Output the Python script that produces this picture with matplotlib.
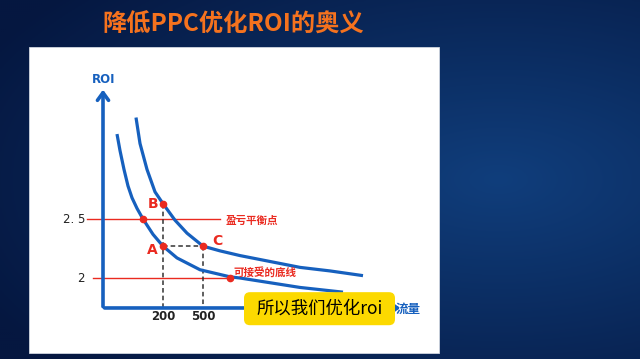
import numpy as np
import matplotlib
matplotlib.use("Agg")
import matplotlib.pyplot as plt
from matplotlib.patches import Rectangle, FancyBboxPatch

plt.rcParams['font.family'] = ['Noto Sans CJK SC', 'DejaVu Sans']

# curves: x is traffic (arbitrary units), y is ROI
outer_x = [33, 37, 44, 52, 60, 72, 84, 100, 117, 137, 167, 197, 227, 260]
outer_roi = [3.36, 3.14, 2.92, 2.73, 2.63, 2.49, 2.38, 2.27, 2.23, 2.19, 2.14, 2.09, 2.06, 2.02]
inner_x = [14, 17, 21, 25, 29, 34, 40, 50, 60, 74, 97, 127, 137, 167, 197, 240]
inner_roi = [3.22, 3.08, 2.92, 2.78, 2.68, 2.59, 2.50, 2.37, 2.27, 2.17, 2.07, 2.01, 2.00,
             1.96, 1.92, 1.88]

point_names = ["A", "B", "C"]
point_x = [60, 60, 100]
point_roi = [2.27, 2.63, 2.27]

breakeven_roi = 2.5
breakeven_x = 40
floor_roi = 2.0
floor_x = 127

tick_pos = [60, 100]
tick_labels = ["200", "500"]
roi_ticks = [2.5, 2.0]
roi_tick_labels = ["2. 5", "2"]

title = "降低PPC优化ROI的奥义"
caption = "所以我们优化roi"

blue = "#1660be"
red = "#ea2a20"

fig = plt.figure(figsize=(6.4, 3.59), dpi=100)

# background gradient
bg = fig.add_axes([0, 0, 1, 1])
gx, gy = np.meshgrid(np.linspace(0, 1, 320), np.linspace(0, 1, 180))
dist = np.sqrt(((gx - 0.78) / 0.9) ** 2 + ((gy - 0.5) / 0.8) ** 2)
dist = np.clip(dist, 0, 1)
c_in = np.array([0x10, 0x3e, 0x7c]) / 255.0
c_out = np.array([0x05, 0x17, 0x40]) / 255.0
img = c_in[None, None, :] * (1 - dist[..., None]) + c_out[None, None, :] * dist[..., None]
bg.imshow(img, extent=[0, 1, 0, 1], aspect="auto", origin="upper")
bg.set_xlim(0, 1)
bg.set_ylim(0, 1)
bg.axis("off")

# white panel
bg.add_patch(Rectangle((29 / 640, 1 - 353 / 359), 410 / 640, 306 / 359,
                       facecolor="white", edgecolor="#d0d6e0", linewidth=0.6))

fig.text(233 / 640, 1 - 25 / 359, title, color="#f5721e", fontsize=17.5,
         fontweight="bold", ha="center", va="center")

# chart drawn in data units (traffic, ROI)
ax = fig.add_axes([0, 0, 1, 1])
ax.set_xlim(-103, 537)
ax.set_ylim(1.3136, 4.356)
ax.axis("off")
ax.patch.set_alpha(0)

x0 = 0
y0 = 1.746
ax.annotate("", xy=(x0, 3.62), xytext=(x0, y0 - 0.012),
            arrowprops=dict(arrowstyle="->,head_length=0.55,head_width=0.4",
                            color=blue, lw=2.6))
ax.annotate("", xy=(300, y0), xytext=(x0 - 1.2, y0),
            arrowprops=dict(arrowstyle="->,head_length=0.55,head_width=0.4",
                            color=blue, lw=2.6))
ax.text(x0 + 1, 3.686, "ROI", color=blue, fontsize=8.5, fontweight="bold",
        ha="center", va="center", family="DejaVu Sans")
ax.text(305, y0 - 0.01, "流量", color=blue, fontsize=9, fontweight="bold",
        ha="center", va="center")

# reference lines
ax.plot([-16, 117], [breakeven_roi, breakeven_roi], color=red, lw=1.0)
ax.plot([-10, floor_x], [floor_roi, floor_roi], color=red, lw=1.0)
ax.text(123, 2.487, "盈亏平衡点", color=red, fontsize=7.6,
        fontweight="bold", ha="left", va="center")
ax.text(130, 2.051, "可接受的底线", color=red, fontsize=7.6,
        fontweight="bold", ha="left", va="center")

# dashed guides
ax.plot([point_x[1], point_x[1]], [point_roi[1], y0], color="#333333", lw=1.1,
        linestyle=(0, (3, 2)))
ax.plot([point_x[2], point_x[2]], [point_roi[2], y0], color="#333333", lw=1.1,
        linestyle=(0, (3, 2)))
ax.plot([point_x[0], point_x[2]], [point_roi[0], point_roi[2]], color="#333333",
        lw=1.1, linestyle=(0, (3, 2)))

# curves
ax.plot(outer_x, outer_roi, color=blue, lw=2.3, solid_capstyle="butt",
        solid_joinstyle="round")
ax.plot(inner_x, inner_roi, color=blue, lw=2.3, solid_capstyle="butt",
        solid_joinstyle="round")

# points
ax.plot(point_x, point_roi, "o", color=red, ms=4.5, zorder=5)
ax.plot([breakeven_x, floor_x], [breakeven_roi, floor_roi], "o", color=red,
        ms=4.5, zorder=5)
label_dx = [-11, -10, 14]
label_dy = [-0.03, 0.0, 0.04]
for name, px, py, dx, dy in zip(point_names, point_x, point_roi, label_dx, label_dy):
    ax.text(px + dx, py + dy, name, color=red, fontsize=10, fontweight="bold",
            ha="center", va="center", family="DejaVu Sans")

# tick labels
for pos, lab in zip(tick_pos, tick_labels):
    ax.text(pos, y0 - 0.075, lab, color="#222222", fontsize=8.5, fontweight="bold",
            ha="center", va="center", family="DejaVu Sans")
for pos, lab in zip(roi_ticks, roi_tick_labels):
    ax.text(-18, pos, lab, color="#222222", fontsize=8.5, ha="right", va="center",
            family="DejaVu Sans")

# yellow caption box
box = FancyBboxPatch((141, 1.6), 151, 0.28, boxstyle="round,pad=0,rounding_size=6",
                     facecolor="#fcd900", edgecolor="none", zorder=6,
                     mutation_aspect=0.0085)
ax.add_patch(box)
ax.text(217, 1.742, caption, color="black", fontsize=12.5, ha="center",
        va="center", zorder=7)

fig.savefig("out.png", dpi=100)
